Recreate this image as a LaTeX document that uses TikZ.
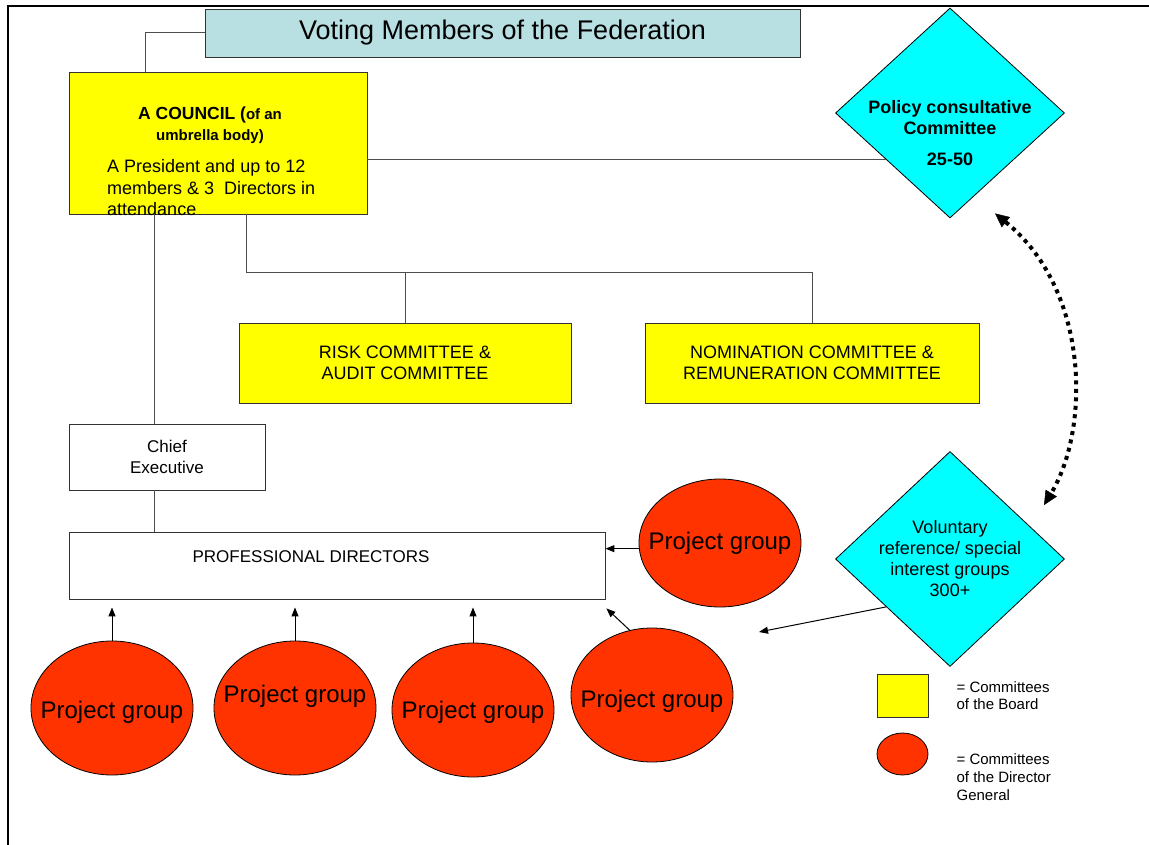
\documentclass[tikz,border=0pt]{standalone}
\usepackage{fontspec}
\setmainfont{Liberation Sans}
\usetikzlibrary{arrows.meta,positioning,shapes.geometric,calc}
\definecolor{votebg}{HTML}{B8DFE2}
\definecolor{board}{HTML}{FFFF00}
\definecolor{dgred}{HTML}{FF3300}
\definecolor{consult}{HTML}{00FFFF}
\definecolor{wire}{HTML}{4D4D4D}
\newcommand{\setfs}[2]{\fontsize{#1}{#2}\selectfont}

\begin{document}
\begin{tikzpicture}[x=1pt,y=-1pt,
  box/.style={draw=black!80,line width=0.9pt,inner sep=0pt,align=center},
  boardbox/.style={box,fill=board},
  pgroup/.style={ellipse,draw=black,line width=0.8pt,fill=dgred,inner sep=0pt,
                 minimum width=162pt,minimum height=134pt},
  pgtext/.style={font=\setfs{24}{28}},
  kite/.style={diamond,draw=black,line width=0.8pt,fill=consult,inner sep=0pt},
  conn/.style={draw=wire,line width=1pt},
  arr/.style={-{Triangle[length=9pt,width=7pt]},draw=black,line width=1pt},
  dots/.style={{Triangle[length=14pt,width=13pt,line width=0.5pt]}-{Triangle[length=14pt,width=13pt,line width=0.5pt]},
               line width=4pt,dash pattern=on 4pt off 4.5pt}
]
\useasboundingbox (0,0) rectangle (1149,845);
% frame
\draw[line width=2.5pt] (8,845) -- (8,6) -- (1149,6);

% board side
\node[box,fill=votebg,minimum width=595pt,minimum height=48pt,font=\setfs{27}{32}] (voting) at (502.5,33) {Voting Members of the Federation};
\node[boardbox,minimum width=298pt,minimum height=142pt] (council) at (218,143) {};
\node[align=center,inner sep=0pt,font=\bfseries\setfs{17.5}{21}] (counciltitle) at (210,125.5)
  {A COUNCIL (\setfs{15}{21}of an\\\setfs{15}{21}umbrella body)};
\node[align=left,inner sep=0pt,anchor=west,font=\setfs{18}{21.5}] (councilbody) at (107,188)
  {A President and up to 12\\members \& 3~ Directors in\\attendance};
\node[boardbox,minimum width=332pt,minimum height=80pt,font=\setfs{18}{21}] (risk) at (405,363)
  {RISK COMMITTEE \&\\AUDIT COMMITTEE};
\node[boardbox,minimum width=334pt,minimum height=80pt,font=\setfs{18}{21}] (nomination) at (812,363)
  {NOMINATION COMMITTEE \&\\REMUNERATION COMMITTEE};

% consultative bodies
\node[kite,minimum width=229pt,minimum height=210pt] (policy) at (950,113) {};
\node[align=center,inner sep=0pt,font=\bfseries\setfs{18}{21}] (policytext) at (950,133)
  {Policy consultative\\Committee\\[10pt]25-50};
\node[kite,minimum width=229pt,minimum height=215pt] (voluntary) at (950,559) {};
\node[align=center,inner sep=0pt,font=\setfs{18}{21}] (voluntarytext) at (950,559)
  {Voluntary\\reference/ special\\interest groups\\300+};

% executive side
\node[box,fill=white,minimum width=196pt,minimum height=66pt,font=\setfs{17}{21}] (chief) at (167,457)
  {Chief\\Executive};
\node[box,fill=white,minimum width=536pt,minimum height=67pt,
      label={[font=\setfs{17}{20},xshift=-26pt,yshift=8.5pt]center:PROFESSIONAL DIRECTORS}] (prof) at (337,565.5) {};
\foreach \n/\x/\y/\dy in {1/112/708/-4,2/295/708/12,3/473/710/-2,4/652/695/-6}
  \node[pgroup,label={[pgtext,yshift=\dy pt]center:Project group}] (pg\n) at (\x,\y) {};
\node[pgroup,minimum height=128pt,label={[pgtext]center:Project group}] (pg5) at (720,543) {};

% legend
\node[boardbox,minimum width=51pt,minimum height=43pt] (legboard) at (902.5,695.5) {};
\node[right=28pt of legboard,inner sep=0pt,align=left,font=\setfs{15}{17.5}] (legboardtxt)
  {= Committees\\of the Board};
\node[ellipse,draw=black,line width=0.8pt,fill=dgred,inner sep=0pt,minimum width=51pt,minimum height=42pt] (legdg) at (902.5,754) {};
\node[right=28pt of legdg,yshift=-23pt,inner sep=0pt,align=left,font=\setfs{15}{18}] (legdgtxt)
  {= Committees\\of the Director\\General};

% connectors
\draw[conn] (voting.west) -| ($(council.north west)+(77,0)$);
\coordinate (pcin) at ($(policy.west)!0.44!(policy.south)$);
\draw[conn] (council.east |- pcin) -- (pcin);
\coordinate (spine) at ($(chief.north west)+(86,0)$);
\draw[conn] (council.south -| spine) -- (spine);
\draw[conn] (chief.south -| spine) -- (prof.north -| spine);
\coordinate (bus) at ($(council.south west)+(178,58)$);
\draw[conn] (council.south -| bus) -- (bus) -| (nomination.north);
\draw[conn] (risk.north) -- (risk.north |- bus);

% arrows
\foreach \n in {1,2,3}
  \draw[arr,shorten >=8pt] (pg\n.north) -- (pg\n.north |- prof.south);
\draw[arr] (pg4.109) -- ($(prof.south east)+(1,9)$);
\draw[arr] (pg5.184) -- (pg5.184 -| prof.east);
\coordinate (volin) at ($(voluntary.west)!0.444!(voluntary.south)$);
\coordinate (voltip) at (759,632);
\draw[arr] (volin) -- (voltip);
\coordinate (dtop) at ($(policy.south)+(45,-5)$);
\coordinate (dbot) at ($(voluntary.north)+(94,54)$);
\draw[dots] (dtop) .. controls +(95,77) and +(46,-76) .. (dbot);
\end{tikzpicture}
\end{document}
